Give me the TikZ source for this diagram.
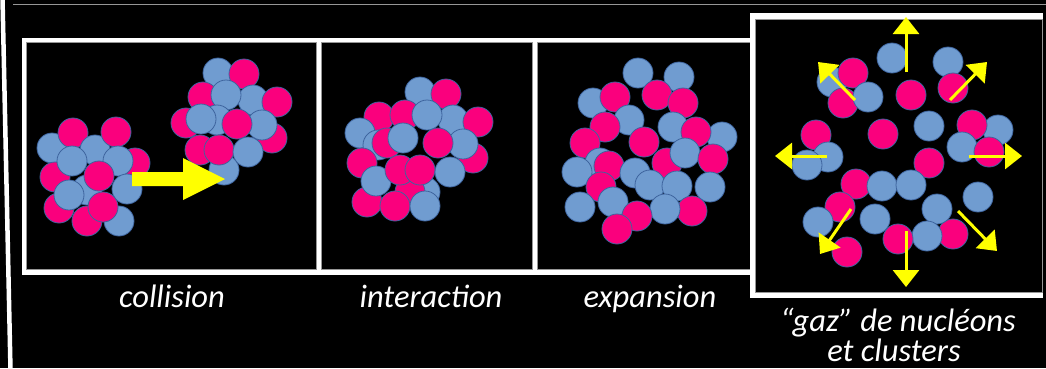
\documentclass[tikz,border=0pt]{standalone}
\usepackage{fontspec}
\setmainfont{Carlito}
\usetikzlibrary{arrows.meta}
\definecolor{pinkc}{RGB}{250,0,125}
\definecolor{bluec}{RGB}{112,156,208}
\definecolor{edgec}{RGB}{62,100,158}
\definecolor{rulec}{RGB}{150,150,150}
\definecolor{yel}{RGB}{255,255,0}
\tikzset{
  pinknuc/.style={fill=pinkc,draw=edgec,line width=0.8pt},
  bluenuc/.style={fill=bluec,draw=edgec,line width=0.8pt},
  panel/.style={fill=black,draw=rulec,line width=0.8pt},
  flow/.style={draw=yel,line width=3pt,-{Triangle[length=17pt,width=26pt]}},
  caption/.style={text=white,font=\itshape\fontsize{32.5}{36}\selectfont,align=center,inner sep=0pt}
}
% one nucleon: style, x, y
\newcommand{\nuc}[3]{\draw[#1] (#2,#3) circle (15pt);}
\begin{document}
\begin{tikzpicture}[x=1pt,y=-1pt]
\fill[black] (0,0) rectangle (1046,368);
\useasboundingbox (0,0) rectangle (1046,368);
% page rules
\draw[rulec,line width=1pt] (13,4) -- (1046,4);
\draw[white,line width=4.5pt] (2.5,-2) -- (10.5,370);
% frame of the first three stages
\fill[white] (22,38) rectangle (754,275);
\draw[panel] (26.5,42.5) rectangle (316.5,269.5);
\draw[panel] (321.5,42.5) rectangle (532.5,269.5);
\draw[panel] (537.5,42.5) rectangle (750,269.5);
% frame of the last stage
\fill[white] (750,13) rectangle (1043,298);
\draw[panel] (755.5,19) rectangle (1042,292);

% ---- collision: projectile
\nuc{bluenuc}{52}{148}
\nuc{pinknuc}{73}{133}
\nuc{bluenuc}{95}{150}
\nuc{pinknuc}{116}{132}
\nuc{pinknuc}{135}{163}
\nuc{pinknuc}{55}{177}
\nuc{bluenuc}{72}{161}
\nuc{bluenuc}{118}{161}
\nuc{bluenuc}{127}{189}
\nuc{bluenuc}{87}{190}
\nuc{pinknuc}{99}{176}
\nuc{pinknuc}{59}{208}
\nuc{bluenuc}{69}{195}
\nuc{pinknuc}{87}{221}
\nuc{bluenuc}{119}{221}
\nuc{pinknuc}{103}{207}
% ---- collision: target
\nuc{bluenuc}{218}{73}
\nuc{pinknuc}{244}{74}
\nuc{pinknuc}{203}{97}
\nuc{bluenuc}{253}{100}
\nuc{pinknuc}{277}{102}
\nuc{bluenuc}{226}{95}
\nuc{pinknuc}{186}{123}
\nuc{bluenuc}{217}{120}
\nuc{bluenuc}{201}{119}
\nuc{pinknuc}{272}{138}
\nuc{bluenuc}{262}{125}
\nuc{pinknuc}{237}{124}
\nuc{bluenuc}{224}{170}
\nuc{pinknuc}{200}{150}
\nuc{pinknuc}{219}{150}
\nuc{bluenuc}{248}{152}
% block arrow
\fill[yel] (132,172) -- (183,172) -- (183,158) -- (225,179) -- (183,200) -- (183,186) -- (132,186) -- cycle;

% ---- interaction
\nuc{bluenuc}{420}{92}
\nuc{pinknuc}{446}{94}
\nuc{pinknuc}{379}{117}
\nuc{bluenuc}{360}{133}
\nuc{pinknuc}{405}{115}
\nuc{bluenuc}{453}{120}
\nuc{pinknuc}{478}{122}
\nuc{bluenuc}{427}{115}
\nuc{bluenuc}{378}{145}
\nuc{pinknuc}{473}{158}
\nuc{pinknuc}{362}{163}
\nuc{pinknuc}{387}{143}
\nuc{bluenuc}{403}{138}
\nuc{bluenuc}{463}{144}
\nuc{pinknuc}{438}{143}
\nuc{bluenuc}{425}{192}
\nuc{pinknuc}{367}{202}
\nuc{bluenuc}{376}{181}
\nuc{pinknuc}{410}{192}
\nuc{pinknuc}{400}{170}
\nuc{pinknuc}{420}{170}
\nuc{bluenuc}{450}{172}
\nuc{pinknuc}{395}{206}
\nuc{bluenuc}{425}{206}

% ---- expansion
\nuc{bluenuc}{638}{73}
\nuc{bluenuc}{679}{77}
\nuc{bluenuc}{593}{103}
\nuc{pinknuc}{615}{97}
\nuc{pinknuc}{657}{95}
\nuc{pinknuc}{683}{103}
\nuc{bluenuc}{629}{120}
\nuc{pinknuc}{605}{127}
\nuc{bluenuc}{673}{127}
\nuc{bluenuc}{722}{137}
\nuc{pinknuc}{696}{132}
\nuc{pinknuc}{585}{143}
\nuc{pinknuc}{644}{142}
\nuc{pinknuc}{667}{163}
\nuc{bluenuc}{685}{153}
\nuc{pinknuc}{713}{159}
\nuc{bluenuc}{600}{163}
\nuc{pinknuc}{609}{166}
\nuc{bluenuc}{577}{172}
\nuc{pinknuc}{601}{187}
\nuc{bluenuc}{635}{173}
\nuc{bluenuc}{650}{185}
\nuc{bluenuc}{677}{186}
\nuc{bluenuc}{710}{187}
\nuc{bluenuc}{580}{207}
\nuc{bluenuc}{613}{202}
\nuc{pinknuc}{692}{211}
\nuc{bluenuc}{665}{209}
\nuc{pinknuc}{637}{216}
\nuc{pinknuc}{617}{229}

% ---- gas of nucleons and clusters
\nuc{bluenuc}{892}{58}
\nuc{bluenuc}{948}{62}
\nuc{bluenuc}{832}{82}
\nuc{pinknuc}{853}{73}
\nuc{pinknuc}{843}{103}
\nuc{bluenuc}{868}{97}
\nuc{pinknuc}{911}{95}
\nuc{pinknuc}{953}{88}
\nuc{pinknuc}{816}{135}
\nuc{bluenuc}{828}{157}
\nuc{bluenuc}{807}{165}
\nuc{pinknuc}{883}{134}
\nuc{bluenuc}{929}{126}
\nuc{bluenuc}{998}{130}
\nuc{pinknuc}{972}{125}
\nuc{bluenuc}{962}{147}
\nuc{pinknuc}{989}{152}
\nuc{pinknuc}{929}{163}
\nuc{pinknuc}{856}{184}
\nuc{bluenuc}{882}{186}
\nuc{bluenuc}{911}{185}
\nuc{bluenuc}{978}{197}
\nuc{pinknuc}{840}{207}
\nuc{bluenuc}{818}{222}
\nuc{bluenuc}{875}{219}
\nuc{pinknuc}{953}{234}
\nuc{bluenuc}{937}{209}
\nuc{bluenuc}{927}{236}
\nuc{pinknuc}{898}{239}
\nuc{pinknuc}{847}{252}
% outward flow
\coordinate (c0) at (906,72);  \coordinate (t0) at (906,17);
\coordinate (c1) at (855,100); \coordinate (t1) at (818,62);
\coordinate (c2) at (950,100); \coordinate (t2) at (987,62);
\coordinate (c3) at (827,156); \coordinate (t3) at (775,156);
\coordinate (c4) at (969,156); \coordinate (t4) at (1022,156);
\coordinate (c5) at (851,209); \coordinate (t5) at (820,254);
\coordinate (c6) at (906,231); \coordinate (t6) at (906,287);
\coordinate (c7) at (958,211); \coordinate (t7) at (997,251);
\foreach \i in {0,...,7} \draw[flow] (c\i) -- (t\i);

% captions
\node[caption,anchor=base] (cap1) at (172,307) {collision};
\node[caption,anchor=base] (cap2) at (431,307) {interaction};
\node[caption,anchor=base] (cap3) at (650,307) {expansion};
\node[caption,anchor=base] (cap4) at (898,331) {“gaz” de nucléons};
\node[caption,anchor=base] (cap5) at (894,361) {et clusters};
\end{tikzpicture}
\end{document}
